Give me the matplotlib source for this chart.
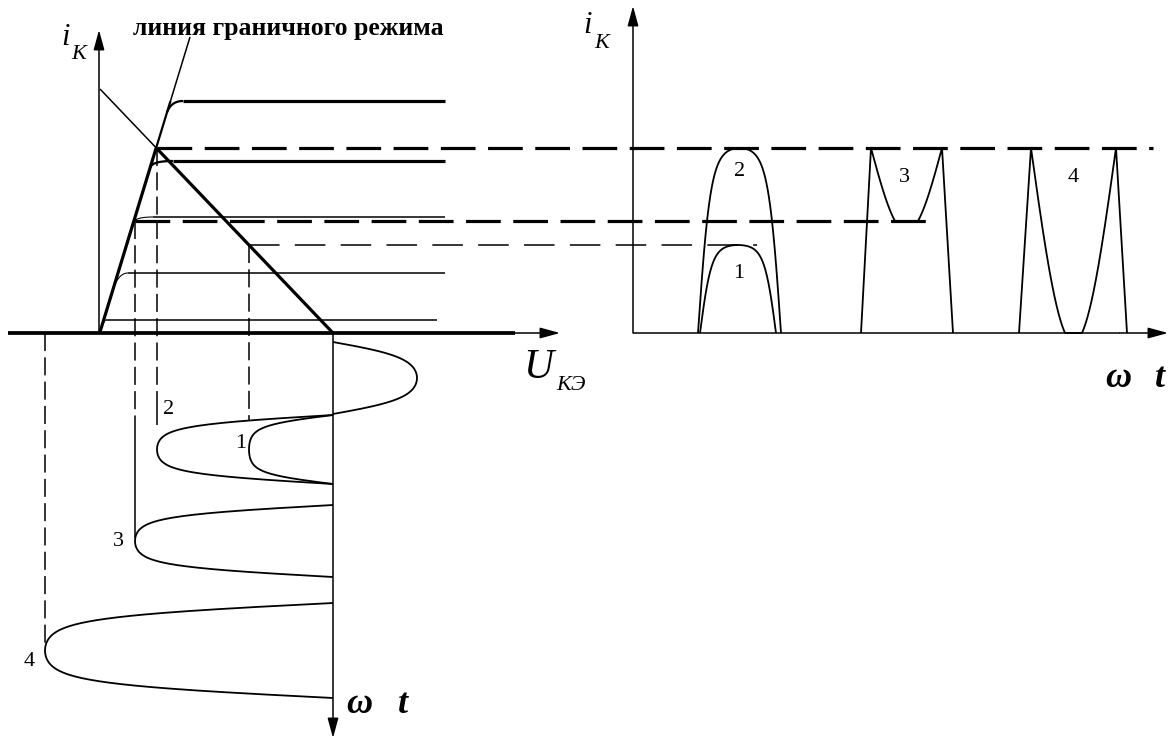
import numpy as np
import matplotlib.pyplot as plt

plt.rcParams["font.family"] = ["Liberation Serif", "DejaVu Serif"]
plt.rcParams["lines.scale_dashes"] = False
plt.rcParams["lines.solid_capstyle"] = "butt"

# ---- left: collector characteristics, U_KE to the right, i_K up (rows grow down)
u_axis_y = 333
i_axis_x = 99
e_k = 333                       # load line foot, also the ωt axis of the voltage plot
load_start = (100, 89)          # load line at U_KE = 0
edge_x = [100, 190]             # boundary-mode line
edge_y = [332, 37]

char_y = [101, 161, 217, 273, 320]
char_bold = [True, True, False, False, False]
char_end = [445, 445, 445, 445, 437]
char_drop = [11, 6, 5, 15, 6]           # where the knee leaves the boundary line
char_flat = [183, 173, 153, 128, 106]   # where the characteristic becomes flat

# ---- collector voltage half-waves along ωt (downwards)
wave_rows = [(342, 414), (415, 484), (415, 484), (505, 577), (603, 698)]
wave_tip = [417, 249, 157, 135, 45]
wave_k = [1.3, 2.0, 2.0, 2.0, 2.0]
wave_names = ["1", "2", "3", "4"]
wave_name_xy = [(241, 443), (169, 410), (118, 542), (29, 662)]

# current levels taken over to the right plot
lvl_1, lvl_top, lvl_sat = 245, 148, 221
proj_top = [lvl_1, lvl_top, lvl_sat, u_axis_y]
proj_dash_end = [420, 397, 420, 647]
proj_solid_end = [420, 425, 538, 647]

# ---- right: collector current pulses i_K(ωt)
r_axis_x = 633
r_base = 333
pulse_span = [(700, 776), (698, 781)]      # curves 1 and 2
pulse_peak = [lvl_1, lvl_top]
sat_edges = [(861, 871, 942, 953), (1019, 1031, 1116, 1127)]   # curves 3 and 4
sat_floor = [lvl_sat, r_base]
sat_flat = [895, 1065]
pulse_names = ["1", "2", "3", "4"]
pulse_name_xy = [(739, 273), (740, 171), (904, 177), (1073, 178)]

THICK, MID, THIN = 2.3, 1.6, 1.1


def hump(s, k):
    return np.tanh(k * np.sin(np.pi * s)) / np.tanh(k)


def edge_at(y):
    return edge_x[0] + (edge_y[0] - y) * (edge_x[1] - edge_x[0]) / (edge_y[0] - edge_y[1])


def arrow(ax, x1, y1, x2, y2, lw=THIN, hl=1.1, hw=0.3):
    ax.annotate("", xy=(x2, y2), xytext=(x1, y1),
                arrowprops=dict(arrowstyle=f"-|>,head_length={hl},head_width={hw}",
                                lw=lw, color="k", shrinkA=0, shrinkB=0,
                                mutation_scale=11))


fig = plt.figure(figsize=(11.74, 7.40), dpi=100)
ax = fig.add_axes([0, 0, 1, 1])
ax.set_xlim(0, 1174)
ax.set_ylim(740, 0)
ax.axis("off")
k = "k"

# axes of the characteristics
ax.plot([8, 515], [u_axis_y, u_axis_y], color=k, lw=THICK + 0.4)
arrow(ax, 515, u_axis_y, 560, u_axis_y)
arrow(ax, i_axis_x, u_axis_y, i_axis_x, 30)

# boundary-mode line, heavy where it bounds the working region
y_mid = np.array([edge_y[0], lvl_top, char_y[0], edge_y[1]])
x_mid = edge_at(y_mid)
ax.plot(x_mid[:2], y_mid[:2], color=k, lw=THICK)
ax.plot(x_mid[1:3], y_mid[1:3], color=k, lw=MID)
ax.plot(x_mid[2:], y_mid[2:], color=k, lw=THIN)

# load line
load_y = lambda x: load_start[1] + (x - load_start[0]) * (u_axis_y - load_start[1]) / (e_k - load_start[0])
x_cross = wave_tip[2]
ax.plot([load_start[0], x_cross], [load_start[1], load_y(x_cross)], color=k, lw=THIN)
ax.plot([x_cross, e_k], [load_y(x_cross), u_axis_y], color=k, lw=THICK)

# characteristics with a rounded knee off the boundary line
t = np.linspace(0, 1, 30)[:, None]
for y, bold, xe, dr, xf in zip(char_y, char_bold, char_end, char_drop, char_flat):
    p0 = np.array([edge_at(y + dr), y + dr])
    p1 = np.array([edge_at(y) + 1, y])
    p2 = np.array([xf, y])
    bez = (1 - t) ** 2 * p0 + 2 * (1 - t) * t * p1 + t ** 2 * p2
    lw = THICK if bold else THIN
    ax.plot(bez[:, 0], bez[:, 1], color=k, lw=lw * 0.7)
    ax.plot([xf, xe], [y, y], color=k, lw=lw)

# dashed level lines carried across to the pulse plot
ax.plot([wave_tip[2], 1153], [lvl_top, lvl_top], color=k, lw=THICK, ls=(0, (25, 9)))
ax.plot([wave_tip[3], 927], [lvl_sat, lvl_sat], color=k, lw=THICK, ls=(0, (25, 9)))
ax.plot([wave_tip[1], 757], [lvl_1, lvl_1], color=k, lw=THIN, ls=(0, (22, 11)))

# vertical projections down to the voltage half-waves
for xp, y0, yd, ys in zip(wave_tip[1:], proj_top, proj_dash_end, proj_solid_end):
    ax.plot([xp, xp], [y0, yd], color=k, lw=THIN, ls=(0, (13, 4.5)))
    if ys > yd:
        ax.plot([xp, xp], [yd, ys], color=k, lw=THIN)

# ωt axis of the voltage plot
arrow(ax, e_k, u_axis_y, e_k, 738)
for i, ((ya, yb), xt, kk) in enumerate(zip(wave_rows, wave_tip, wave_k)):
    s = np.linspace(0, 1, 200)
    ax.plot(e_k + (xt - e_k) * hump(s, kk), ya + (yb - ya) * s, color=k, lw=THIN + 0.2)
for name, (xn, yn) in zip(wave_names, wave_name_xy):
    ax.text(xn, yn, name, fontsize=16, ha="center", va="center")

# ---- pulse plot
ax.plot([r_axis_x, 1120], [r_base, r_base], color=k, lw=THIN)
arrow(ax, 1120, r_base, 1168, r_base)
arrow(ax, r_axis_x, r_base, r_axis_x, 6)

for (xa, xb), yp in zip(pulse_span, pulse_peak):
    s = np.linspace(0, 1, 200)
    ax.plot(xa + (xb - xa) * s, r_base - (r_base - yp) * hump(s, 2.0), color=k, lw=THIN + 0.2)

for (xa, xl, xr, xb), yf, xf in zip(sat_edges, sat_floor, sat_flat):
    s = np.linspace(0, 1, 200)
    depth = (yf - lvl_top) / np.sin(np.pi * (xf - xl) / (xr - xl))
    dip = np.minimum(lvl_top + depth * np.sin(np.pi * s), yf)
    xs = np.concatenate([[xa], xl + (xr - xl) * s, [xb]])
    ys = np.concatenate([[r_base], dip, [r_base]])
    ax.plot(xs, ys, color=k, lw=THIN + 0.2)

for name, (xn, yn) in zip(pulse_names, pulse_name_xy):
    ax.text(xn, yn, name, fontsize=16, ha="center", va="center")

# ---- labels
ax.text(133, 35, "линия граничного режима", fontsize=18.5, fontweight="bold", va="baseline")
ax.text(61, 45, "i", fontsize=22, style="italic", va="baseline")
ax.text(71, 59, "K", fontsize=16, style="italic", va="baseline")
ax.text(583, 33, "i", fontsize=22, style="italic", va="baseline")
ax.text(594, 48, "K", fontsize=16, style="italic", va="baseline")
ax.text(523, 378, "U", fontsize=30, style="italic", va="baseline")
ax.text(556, 390, "KЭ", fontsize=16, style="italic", va="baseline")
ax.text(346, 713, "ω", fontsize=26, style="italic", fontweight="bold", va="baseline")
ax.text(398, 713, "t", fontsize=26, style="italic", fontweight="bold", va="baseline")
ax.text(1105, 387, "ω", fontsize=26, style="italic", fontweight="bold", va="baseline")
ax.text(1155, 387, "t", fontsize=26, style="italic", fontweight="bold", va="baseline")

fig.savefig("out.png", dpi=100, facecolor="white")
